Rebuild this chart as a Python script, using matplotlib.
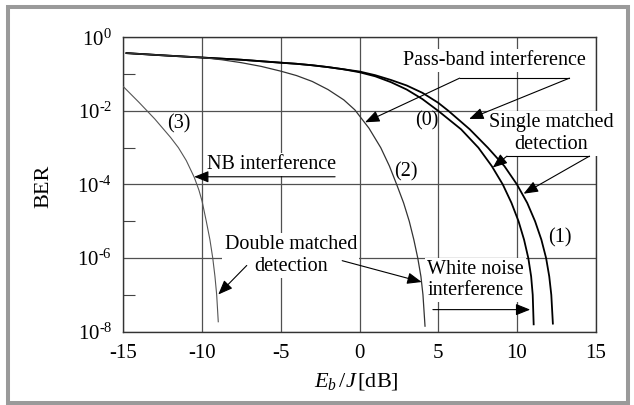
import matplotlib
matplotlib.use('Agg')
import matplotlib.pyplot as plt
import numpy as np
from matplotlib.patches import Rectangle

plt.rcParams['font.family'] = 'Liberation Serif'
plt.rcParams['mathtext.fontset'] = 'custom'
plt.rcParams['mathtext.rm'] = 'Liberation Serif'
plt.rcParams['mathtext.it'] = 'Liberation Serif:italic'

# curve data: Eb/J [dB] and log10(BER)
x_0 = [-14.8, -12.5, -10, -7.5, -5, -4, -3, -2, -1, 0, 1, 2, 3, 4, 5, 6.45, 7.55, 8.4, 9.1, 9.65, 10.1, 10.45, 10.72, 10.9, 11.0, 11.06]
lg_0 = [-0.43, -0.49, -0.55, -0.61, -0.69, -0.72, -0.76, -0.81, -0.87, -0.95, -1.06, -1.22, -1.42, -1.68, -2.0, -2.5, -3.0, -3.5, -4.0, -4.5, -5.0, -5.5, -6.0, -6.5, -7.0, -7.8]

x_1 = [-14.8, -12.5, -10, -7.5, -5, -4, -3, -2, -1, 0, 1, 2, 3, 4, 5, 5.65, 7.0, 8.15, 9.2, 10.0, 10.65, 11.15, 11.55, 11.85, 12.05, 12.18, 12.28]
lg_1 = [-0.43, -0.49, -0.55, -0.61, -0.69, -0.72, -0.76, -0.81, -0.87, -0.93, -1.03, -1.16, -1.31, -1.51, -1.78, -2.0, -2.5, -3.0, -3.5, -4.0, -4.5, -5.0, -5.5, -6.0, -6.5, -7.0, -7.78]

x_2 = [-14.8, -12.5, -10, -8.75, -7.5, -6.25, -5, -4, -3, -2, -1, -0.3, 0.6, 1.35, 1.9, 2.36, 2.8, 3.16, 3.45, 3.7, 3.9, 4.03, 4.16]
lg_2 = [-0.43, -0.49, -0.55, -0.61, -0.69, -0.79, -0.92, -1.04, -1.2, -1.42, -1.7, -1.97, -2.47, -3.0, -3.5, -4.0, -4.5, -5.0, -5.5, -6.0, -6.5, -7.0, -7.85]

x_3 = [-15, -14, -13, -12, -11.5, -11, -10.5, -10.2, -10.0, -9.73, -9.5, -9.32, -9.18, -9.07, -8.97]
lg_3 = [-1.34, -1.77, -2.22, -2.72, -3.0, -3.35, -3.8, -4.15, -4.45, -5.0, -5.5, -6.0, -6.5, -7.0, -7.73]

x_ticks = [-15, -10, -5, 0, 5, 10, 15]
x_labels = ['-15', '-10', '-5', '0', '5', '10', '15']
y_ticks = [1e0, 1e-2, 1e-4, 1e-6, 1e-8]
y_labels = [r'$10^{\text{0}}$', r'$10^{\text{-2}}$', r'$10^{\text{-4}}$', r'$10^{\text{-6}}$', r'$10^{\text{-8}}$']
y_minor = [1e-1, 1e-3, 1e-5, 1e-7]

fig = plt.figure(figsize=(6.34, 4.05), dpi=100)
ax = fig.add_axes([0.1945, 0.181, 0.7451, 0.7269])

ax.semilogy(x_0, 10 ** np.array(lg_0), color='black', lw=1.3, zorder=4)
ax.semilogy(x_1, 10 ** np.array(lg_1), color='black', lw=1.3, zorder=4)
ax.semilogy(x_2, 10 ** np.array(lg_2), color='#333333', lw=0.9, zorder=4)
ax.semilogy(x_3, 10 ** np.array(lg_3), color='#555555', lw=0.8, zorder=4)

ax.set_xlim(-15, 15)
ax.set_ylim(1e-8, 1)
ax.set_xticks(x_ticks)
ax.set_xticklabels(x_labels)
ax.set_yticks(y_ticks)
ax.set_yticklabels(y_labels)
ax.set_yticks(y_minor, minor=True)
ax.yaxis.set_minor_formatter(plt.NullFormatter())
ax.tick_params(which='major', length=0, labelsize=15)
ax.tick_params(axis='y', which='major', pad=8)
ax.tick_params(axis='x', which='major', pad=9)
ax.tick_params(which='minor', direction='in', length=8.6, width=0.8, color='#444444')
ax.grid(which='major', color='#505050', lw=0.9)
for s in ax.spines.values():
    s.set_color('#333333')
    s.set_linewidth(1.0)

fig.text(43.7 / 634, 1 - 186.7 / 405, 'BER', rotation=90, ha='center', va='center', fontsize=16)
fig.text(356 / 634, 1 - 381 / 405, r'$E_b\,/J\,$[dB]', ha='center', va='center', fontsize=16)

box = dict(facecolor='white', edgecolor='none', pad=1.5)
fs = 14.5


def arrow(x0, y0, x1, y1):
    ax.annotate('', xy=(x1, 10 ** y1), xytext=(x0, 10 ** y0),
                arrowprops=dict(arrowstyle='-|>,head_length=0.55,head_width=0.22',
                                color='black', lw=0.8, mutation_scale=16,
                                shrinkA=0, shrinkB=0), zorder=5, annotation_clip=False)


def hline(x0, x1, y):
    ax.plot([x0, x1], [10 ** y, 10 ** y], color='black', lw=0.8, zorder=5, clip_on=False)


# Pass-band interference
ax.text(8.56, 10 ** -0.64, 'Pass-band interference', ha='center', va='center', fontsize=fs, bbox=box, zorder=3)
hline(6.36, 13.33, -1.11)
arrow(6.36, -1.11, 0.35, -2.31)
arrow(13.33, -1.11, 6.96, -2.22)

# Single matched detection
ax.text(12.16, 10 ** -2.62, 'Single matched\ndetection', ha='center', va='center', fontsize=fs,
        linespacing=1.2, bbox=box, zorder=3)
hline(9.36, 14.6, -3.23)
arrow(9.36, -3.23, 8.46, -3.54)
arrow(14.6, -3.23, 10.42, -4.25)

# NB interference
ax.text(-5.57, 10 ** -3.45, 'NB interference', ha='center', va='center', fontsize=fs, bbox=box, zorder=3)
arrow(-1.55, -3.79, -10.5, -3.79)

# Double matched detection
ax.text(-4.37, 10 ** -5.93, 'Double matched\ndetection', ha='center', va='center', fontsize=fs,
        linespacing=1.2, bbox=box, zorder=3)
arrow(-7.16, -6.2, -8.97, -6.99)
arrow(-1.1, -6.07, 3.95, -6.65)

# White noise interference
ax.text(7.36, 10 ** -6.59, 'White noise\ninterference', ha='center', va='center', fontsize=fs,
        linespacing=1.1, bbox=box, zorder=3)
arrow(4.66, -7.4, 10.84, -7.4)

# curve numbers
ax.text(4.26, 10 ** -2.26, '(0)', ha='center', va='center', fontsize=fs, zorder=3)
ax.text(12.74, 10 ** -5.44, '(1)', ha='center', va='center', fontsize=fs, zorder=3)
ax.text(2.96, 10 ** -3.67, '(2)', ha='center', va='center', fontsize=fs, zorder=3)
ax.text(-11.5, 10 ** -2.35, '(3)', ha='center', va='center', fontsize=fs, zorder=3)

# gray frame around the figure
fig.patches.append(Rectangle((8 / 634, 2 / 405), 620 / 634, 396 / 405, transform=fig.transFigure,
                             fill=False, edgecolor='#9a9a9a', lw=2.9))

fig.savefig('out.png', dpi=100)
